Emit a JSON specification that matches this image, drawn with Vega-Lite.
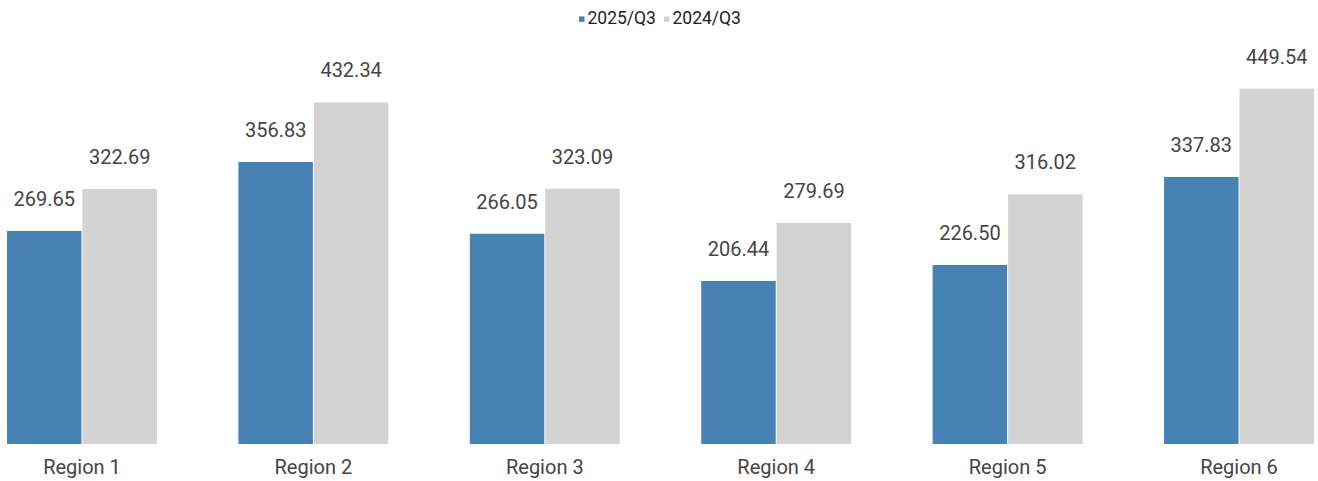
{
  "$schema": "https://vega.github.io/schema/vega-lite/v6.json",
  "autosize": "none",
  "width": 1307,
  "height": 395,
  "padding": {"left": 7, "top": 49, "right": 4, "bottom": 37},
  "background": "white",
  "config": {"view": {"stroke": null}, "font": "Roboto"},
  "data": {"values": [
    {"region": "Region 1", "period": "2025/Q3", "value": 269.65},
    {"region": "Region 1", "period": "2024/Q3", "value": 322.69},
    {"region": "Region 2", "period": "2025/Q3", "value": 356.83},
    {"region": "Region 2", "period": "2024/Q3", "value": 432.34},
    {"region": "Region 3", "period": "2025/Q3", "value": 266.05},
    {"region": "Region 3", "period": "2024/Q3", "value": 323.09},
    {"region": "Region 4", "period": "2025/Q3", "value": 206.44},
    {"region": "Region 4", "period": "2024/Q3", "value": 279.69},
    {"region": "Region 5", "period": "2025/Q3", "value": 226.50},
    {"region": "Region 5", "period": "2024/Q3", "value": 316.02},
    {"region": "Region 6", "period": "2025/Q3", "value": 337.83},
    {"region": "Region 6", "period": "2024/Q3", "value": 449.54}
  ]},
  "encoding": {
    "x": {"field": "region", "type": "nominal", "title": null,
      "scale": {"paddingInner": 0.352, "paddingOuter": 0},
      "axis": {"labelAngle": 0, "domain": false, "ticks": false, "labelFontSize": 20, "labelColor": "#444444", "labelPadding": 13, "labelFont": "Roboto"}},
    "xOffset": {"field": "period", "type": "nominal", "sort": ["2025/Q3", "2024/Q3"], "scale": {"paddingInner": 0.013, "paddingOuter": 0}},
    "y": {"field": "value", "type": "quantitative", "scale": {"domain": [0, 500]}, "axis": null}
  },
  "layer": [
    {
      "mark": {"type": "bar", "clip": false},
      "encoding": {
        "color": {"field": "period", "type": "nominal", "sort": ["2025/Q3", "2024/Q3"],
          "scale": {"domain": ["2025/Q3", "2024/Q3"], "range": ["#4682b4", "#d3d3d3"]},
          "legend": {"title": null, "orient": "none", "direction": "horizontal", "legendX": 566, "legendY": -39,
            "symbolType": "square", "symbolSize": 30, "labelFontSize": 17.5, "labelColor": "#222222", "labelFont": "Roboto", "columnPadding": 2, "labelOffset": -3}}
      }
    },
    {
      "mark": {"type": "text", "dy": -25, "baseline": "alphabetic", "fontSize": 20, "color": "#444444", "font": "Roboto"},
      "encoding": {"text": {"field": "value", "type": "quantitative", "format": ".2f"}}
    }
  ]
}
